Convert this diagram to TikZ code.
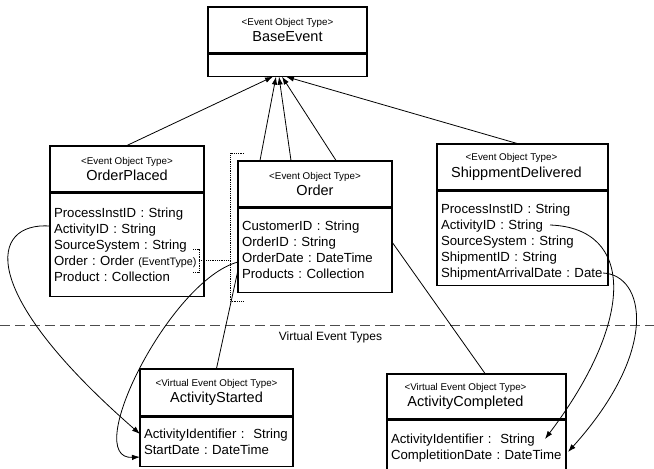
\documentclass[tikz,border=0pt]{standalone}
\usepackage{fontspec}
\setmainfont{Liberation Sans}
\frenchspacing
\usepackage{tikz}
\usetikzlibrary{arrows.meta,positioning}
\newcommand{\attrfont}{\fontsize{13.2}{16}\selectfont\spaceskip=0.25em plus 0.1em minus 0.05em\relax}
\newcommand{\stereo}[1]{{\fontsize{9.8}{16.5}\selectfont #1}}
\tikzstyle{arrow} = [line width=0.8pt,->,>={Latex[length=8pt,width=5.5pt]}]
\tikzstyle{link} = [line width=0.8pt]
\tikzstyle{header} = [draw, line width=1.1pt, align=center, inner sep=0pt, minimum height=46pt, font=\fontsize{14.5}{16.5}\selectfont]
\tikzstyle{attrs} = [draw, line width=1.1pt, align=left, inner xsep=4pt, inner ysep=0pt, font=\attrfont]

\begin{document}
\begin{tikzpicture}[x=1pt,y=-1pt]
	\useasboundingbox (0,0) rectangle (654,469);
	
	% Event object types:
	\node[header, minimum width=159pt] (base) at (287.5,30) {\stereo{<Event Object Type>}\\BaseEvent};
	\node[attrs, text width=151pt, minimum height=22pt, below=0pt of base] (baseA) {};
	
	\node[header, minimum width=154pt] (placed) at (127,169) {\stereo{<Event Object Type>}\\OrderPlaced};
	\node[attrs, text width=146pt, minimum height=103pt, below=0pt of placed] (placedA) {ProcessInstID : String\\ActivityID : String\\SourceSystem : String\\Order : Order\ {\fontsize{10.8}{16}\selectfont (EventType)}\\Product : Collection};
	
	\node[header, minimum width=154pt] (order) at (315,184) {\stereo{<Event Object Type>}\\Order};
	\node[attrs, text width=146pt, minimum height=84pt, below=0pt of order] (orderA) {CustomerID : String\\OrderID : String\\OrderDate : DateTime\\Products : Collection};
	
	\node[header, minimum width=171pt] (shipped) at (522.5,167) {\stereo{<Event Object Type>}\hspace*{22pt}\\ShippmentDelivered\hspace*{12pt}};
	\node[attrs, text width=163pt, minimum height=94pt, below=0pt of shipped] (shippedA) {\rule{0pt}{18pt}ProcessInstID : String\\ActivityID : String\\SourceSystem : String\\ShipmentID : String\\ShipmentArrivalDate : Date};
	
	% Separator:
	\draw[dash pattern=on 10pt off 5pt, line width=1pt, black!70] (0,325) -- (654,325);
	\node[font=\fontsize{12}{14}\selectfont] (virtual) at (330.5,337) {Virtual Event Types};
	
	% Virtual event object types:
	\node[header, minimum width=153pt, minimum height=47pt] (started) at (216.5,392.5) {\stereo{<Virtual Event Object Type>}\\ActivityStarted};
	\node[attrs, text width=145pt, minimum height=49pt, below=0pt of started] (startedA) {ActivityIdentifier :\ \ String\\StartDate : DateTime};
	
	\node[header, minimum width=179pt, minimum height=45pt] (completed) at (476.5,396.5) {\stereo{<Virtual Event Object Type>}\hspace*{22pt}\\ActivityCompleted\hspace*{22pt}};
	\node[attrs, text width=171pt, minimum height=56pt, below=0pt of completed] (completedA) {ActivityIdentifier :\ \ String\\CompletitionDate : DateTime};
	
	% Attribute anchors:
	\coordinate (placedAct) at (50,226);
	\coordinate (orderDate) at (238,262);
	\coordinate (orderLow) at (238,270);
	\coordinate (orderRight) at (392,242);
	\coordinate (shippedAct) at (550,225);
	\coordinate (shippedDate) at (603,273);
	\coordinate (startedId) at (140,434);
	\coordinate (startedDate) at (140,457);
	\coordinate (completedId) at (545,439);
	\coordinate (completedDate) at (568,452);
	
	% Inheritance:
	\draw[arrow] (placed.north) -- ([xshift=-14.5pt]baseA.south);
	\draw[arrow] ([xshift=-55pt]order.north) -- ([xshift=-11.5pt]baseA.south);
	\draw[arrow] ([xshift=-24pt]order.north) -- ([xshift=-8.5pt]baseA.south);
	\draw[arrow] ([xshift=21pt]order.north) -- ([xshift=-5.5pt]baseA.south);
	\draw[arrow] ([xshift=-5.5pt]shipped.north) -- ([xshift=-1.5pt]baseA.south);
	
	% Order (EventType) reference:
	\draw[densely dotted, line width=0.8pt] (193,249) -- (199,249) -- (199,272) -- (193,272);
	\draw[densely dotted, line width=0.8pt] (244,153) -- (230,153) -- (230,301) -- (244,301);
	\coordinate (evtType) at (199,260);
	\coordinate (orderBracket) at (230,260);
	\draw[densely dotted, line width=0.8pt] (evtType) -- (orderBracket);
	
	% Derivation:
	\draw[link] (orderLow) -- (started.north);
	\draw[link] (orderRight) -- ([xshift=8.5pt]completed.north);
	
	% Attribute mapping:
	\draw[arrow] (placedAct) .. controls (-10,222) and (-25,290) .. (startedId);
	\draw[arrow] (orderDate) .. controls (170,280) and (80,460) .. (startedDate);
	\draw[arrow] (shippedAct) .. controls (635,228) and (635,320) .. (completedId);
	\draw[arrow] (shippedDate) .. controls (645,275) and (660,350) .. (completedDate);
	
\end{tikzpicture}
\end{document}
